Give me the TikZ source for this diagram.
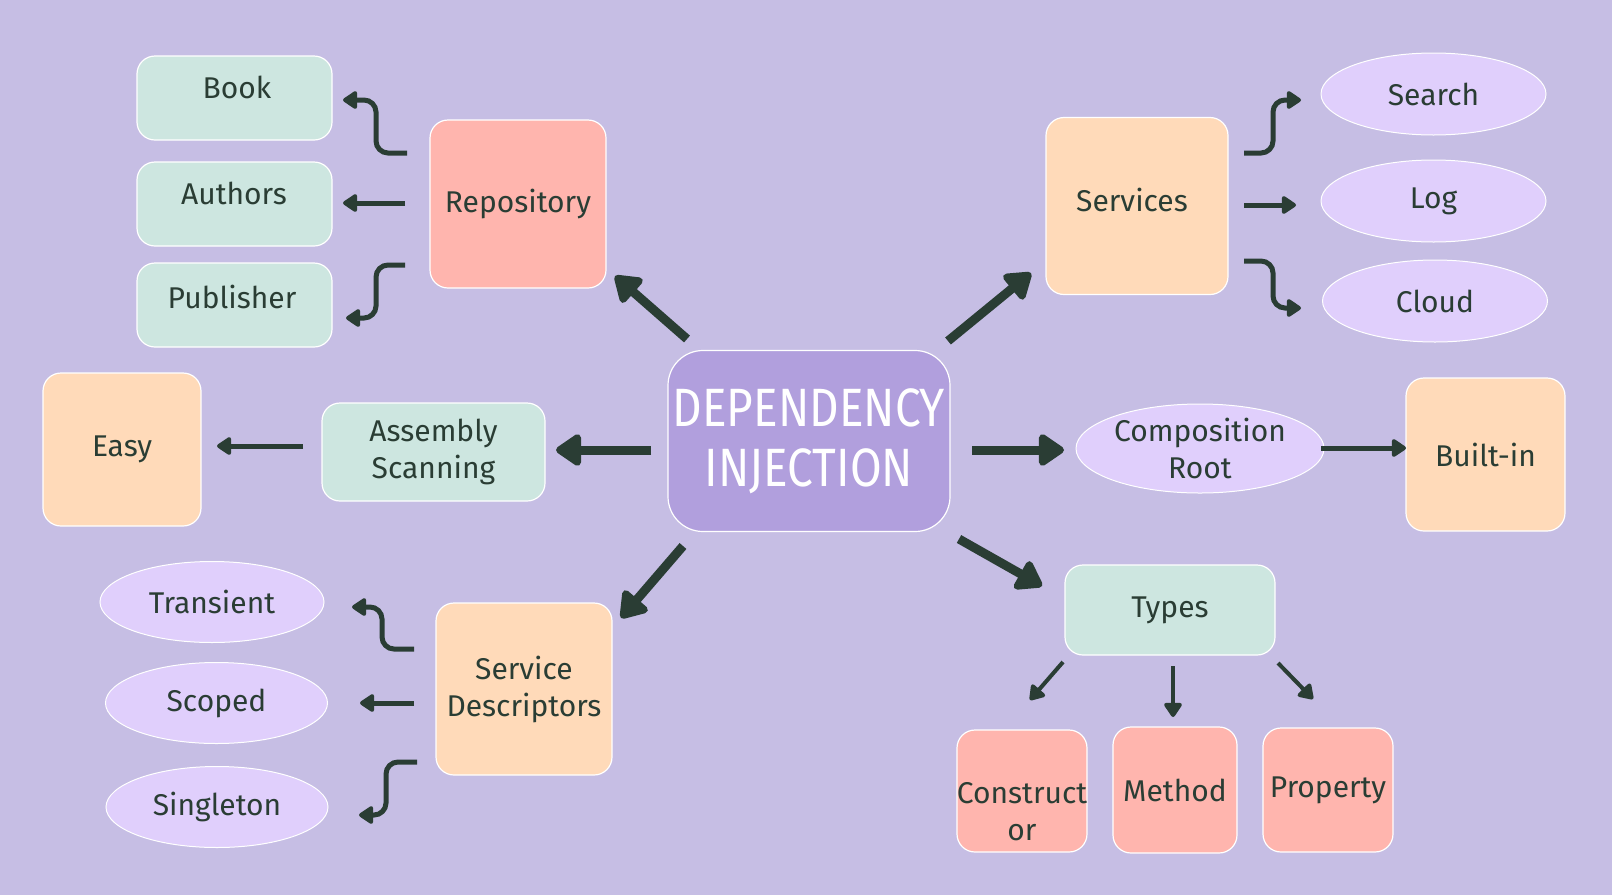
\documentclass[tikz,border=0pt]{standalone}
\usepackage{fontspec}
\setmainfont{Fira Sans}
\usetikzlibrary{shapes.geometric,arrows.meta}
\definecolor{bg}{HTML}{C6BEE4}
\definecolor{mint}{HTML}{CDE6E0}
\definecolor{salmon}{HTML}{FFB5AE}
\definecolor{peach}{HTML}{FFDAB9}
\definecolor{lilac}{HTML}{E0CFFC}
\definecolor{dipurple}{HTML}{B19FDD}
\definecolor{ink}{HTML}{2A3D34}
\newcommand\lblfont{\fontsize{30}{37}\selectfont}
\newcommand\bigfont{\fontsize{54}{60}\selectfont}
\begin{document}
\begin{tikzpicture}[x=1pt,y=-1pt,
  box/.style={draw=white, line width=1.2, rounded corners=18, inner sep=0, font=\lblfont, text=ink, align=center},
  mintbox/.style={box, fill=mint},
  salbox/.style={box, fill=salmon},
  peachbox/.style={box, fill=peach},
  ell/.style={ellipse, draw=white, line width=1, fill=lilac, inner sep=0, font=\lblfont, text=ink, align=center},
  lbl/.style={font=\lblfont, text=ink, align=center, inner sep=0},
  tarr/.style={draw=ink, line width=5, -{Triangle[width=20,length=16,round]}},
  sarr/.style={draw=ink, line width=4, -{Triangle[width=20,length=16,round]}},
  karr/.style={draw=ink, line width=9, -{Triangle[width=36,length=28,round]}},
  elb/.style={tarr, rounded corners=12}
]
\fill[bg] (0,0) rectangle (1612,895);
\useasboundingbox (0,0) rectangle (1612,895);

% left-top group
\node[mintbox, minimum width=195, minimum height=84] (book) at (234.5,98) {};
\node[lbl] (bookt) at (237,87) {Book};
\node[mintbox, minimum width=195, minimum height=84] (authors) at (234.5,204) {};
\node[lbl] (authorst) at (234,193) {Authors};
\node[mintbox, minimum width=195, minimum height=84] (publisher) at (234.5,305) {};
\node[lbl] (publishert) at (232,297) {Publisher};
\node[salbox, minimum width=176, minimum height=168] (repo) at (518,204) {Repository};

% right-top group
\node[peachbox, minimum width=182, minimum height=177] (services) at (1137,206) {};
\node[lbl] (servicest) at (1132,200) {Services};
\node[ell, minimum width=225, minimum height=82] (search) at (1433.5,94) {Search};
\node[ell, minimum width=225, minimum height=82] (log) at (1433.5,201) {Log};
\node[ell, minimum width=225, minimum height=82] (cloud) at (1435,301) {Cloud};

% center
\node[box, fill=dipurple, rounded corners=35, minimum width=282, minimum height=181,
  font=\bigfont, text=white] (di) at (809,441) {\scalebox{0.85}[1]{DEPENDENCY}\\\scalebox{0.85}[1]{INJECTION}};

% middle row
\node[mintbox, minimum width=223, minimum height=98] (asm) at (433.5,452) {Assembly\\Scanning};
\node[peachbox, minimum width=158, minimum height=153] (easy) at (122,449.5) {Easy};
\node[ell, minimum width=248, minimum height=89] (comp) at (1200,448.5) {Composition\\Root};
\node[peachbox, minimum width=159, minimum height=153] (builtin) at (1485.5,454.5) {Built-in};

% bottom-left group
\node[ell, minimum width=224, minimum height=81] (trans) at (212,602) {Transient};
\node[ell, minimum width=222, minimum height=81] (scoped) at (216.5,703) {Scoped};
\node[ell, minimum width=222, minimum height=81] (single) at (217,807) {Singleton};
\node[peachbox, minimum width=176, minimum height=172] (sd) at (524,689) {Service\\Descriptors};

% bottom-right group
\node[mintbox, minimum width=210, minimum height=90] (types) at (1170,610) {Types};
\node[salbox, minimum width=130, minimum height=122] (ctor) at (1022,791) {};
\node[lbl] (ctort) at (1022,812) {Construct\\or};
\node[salbox, minimum width=124, minimum height=126] (method) at (1175,790) {Method};
\node[salbox, minimum width=130, minimum height=124] (prop) at (1328,790) {Property};

% coordinates for connectors
\coordinate (k1s) at (687,339);  \coordinate (k1e) at (615,276);
\coordinate (k2s) at (948,341);  \coordinate (k2e) at (1031,273);
\coordinate (k3s) at (651,450);  \coordinate (k3e) at (556,450);
\coordinate (k4s) at (972,450);  \coordinate (k4e) at (1064,450);
\coordinate (k5s) at (683,546);  \coordinate (k5e) at (621,618);
\coordinate (k6s) at (959,539);  \coordinate (k6e) at (1042,586);

\coordinate (bks) at (407,153);  \coordinate (bke) at (343,100);
\coordinate (aus) at (405,203);  \coordinate (aue) at (343,203);
\coordinate (pus) at (405,265);  \coordinate (pue) at (346,318);

\coordinate (ses) at (1244,153); \coordinate (see) at (1301,100);
\coordinate (los) at (1244,205); \coordinate (loe) at (1296,205);
\coordinate (cls) at (1244,261); \coordinate (cle) at (1301,308);

\coordinate (ess) at (303,446);  \coordinate (ese) at (217,446);
\coordinate (bis) at (1321,448); \coordinate (bie) at (1406,448);

\coordinate (trs) at (414,649);  \coordinate (tre) at (352,607);
\coordinate (scs) at (414,703);  \coordinate (sce) at (360,703);
\coordinate (sis) at (417,762);  \coordinate (sie) at (359,815);

\coordinate (t1s) at (1063,662); \coordinate (t1e) at (1030,700);
\coordinate (t2s) at (1173,666); \coordinate (t2e) at (1173,717);
\coordinate (t3s) at (1278,663); \coordinate (t3e) at (1313,699);

% thick arrows from center
\draw[karr] (k1s) -- (k1e);
\draw[karr] (k2s) -- (k2e);
\draw[karr] (k3s) -- (k3e);
\draw[karr] (k4s) -- (k4e);
\draw[karr] (k5s) -- (k5e);
\draw[karr] (k6s) -- (k6e);

% repository children
\draw[elb] (bks) -| ([xshift=33]bke) -- (bke);
\draw[tarr] (aus) -- (aue);
\draw[elb] (pus) -| ([xshift=30]pue) -- (pue);

% services children
\draw[elb] (ses) -| ([xshift=-28]see) -- (see);
\draw[tarr] (los) -- (loe);
\draw[elb] (cls) -| ([xshift=-28]cle) -- (cle);

% middle
\draw[tarr] (ess) -- (ese);
\draw[tarr] (bis) -- (bie);

% service descriptors children
\draw[elb] (trs) -| ([xshift=30]tre) -- (tre);
\draw[tarr] (scs) -- (sce);
\draw[elb] (sis) -| ([xshift=27]sie) -- (sie);

% types children
\draw[sarr] (t1s) -- (t1e);
\draw[sarr] (t2s) -- (t2e);
\draw[sarr] (t3s) -- (t3e);
\end{tikzpicture}
\end{document}
